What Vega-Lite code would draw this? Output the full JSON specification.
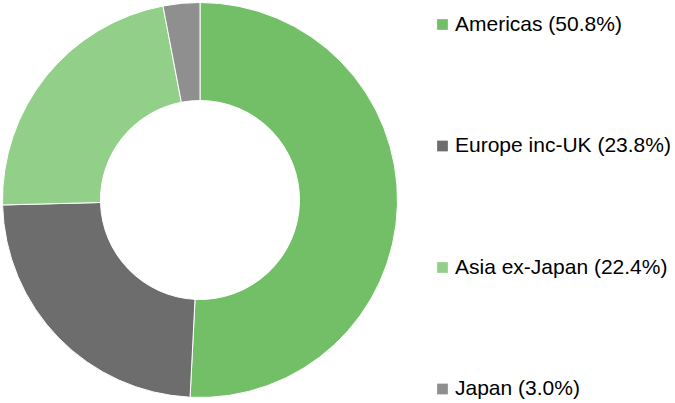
{
  "$schema": "https://vega.github.io/schema/vega-lite/v6.json",
  "background": "white",
  "padding": 0,
  "width": 400,
  "height": 400,
  "data": {
    "values": [
      {"region": "Americas (50.8%)", "share": 50.8, "order": 1},
      {"region": "Europe inc-UK (23.8%)", "share": 23.8, "order": 2},
      {"region": "Asia ex-Japan (22.4%)", "share": 22.4, "order": 3},
      {"region": "Japan (3.0%)", "share": 3.0, "order": 4}
    ]
  },
  "mark": {
    "type": "arc",
    "outerRadius": 197.5,
    "innerRadius": 99.5,
    "stroke": "white",
    "strokeWidth": 1
  },
  "encoding": {
    "theta": {"field": "share", "type": "quantitative", "stack": true},
    "order": {"field": "order", "type": "quantitative"},
    "color": {
      "field": "region",
      "type": "nominal",
      "sort": null,
      "scale": {
        "domain": [
          "Americas (50.8%)",
          "Europe inc-UK (23.8%)",
          "Asia ex-Japan (22.4%)",
          "Japan (3.0%)"
        ],
        "range": ["#72bf68", "#6d6d6d", "#92d08a", "#8f8f8f"]
      },
      "legend": {
        "title": null,
        "orient": "none",
        "legendX": 432,
        "legendY": 14,
        "padding": 0,
        "symbolType": "square",
        "symbolSize": 115,
        "symbolStrokeWidth": 0,
        "symbolOpacity": 1,
        "labelFont": "Liberation Sans",
        "labelFontSize": 21,
        "labelColor": "#000000",
        "labelOffset": 2,
        "labelLimit": 300,
        "rowPadding": 99.5
      }
    }
  },
  "config": {
    "view": {"stroke": null}
  }
}
